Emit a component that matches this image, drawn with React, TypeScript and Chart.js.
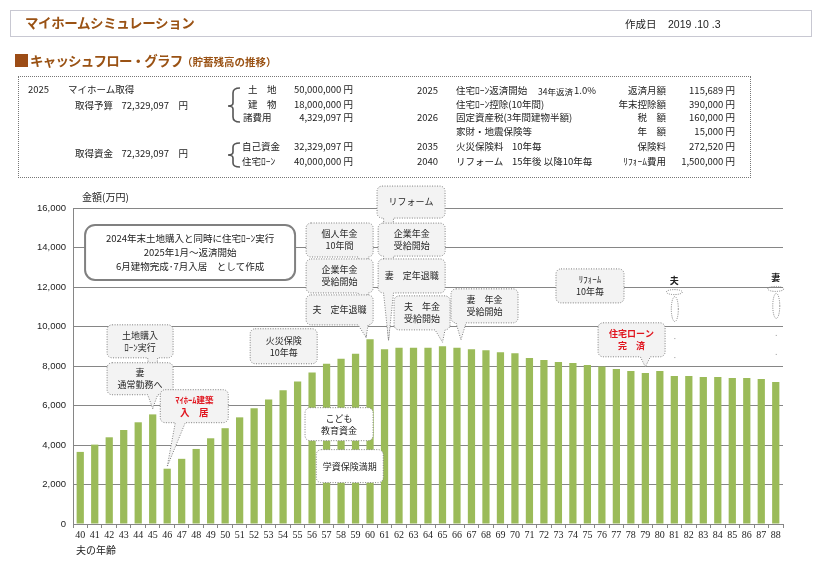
import React, { useEffect, useRef } from "react";
import { Chart, registerables } from "chart.js";

Chart.register(...registerables);

// ---- data ----
const ages = [
  "40", "41", "42", "43", "44", "45", "46", "47", "48", "49",
  "50", "51", "52", "53", "54", "55", "56", "57", "58", "59",
  "60", "61", "62", "63", "64", "65", "66", "67", "68", "69",
  "70", "71", "72", "73", "74", "75", "76", "77", "78", "79",
  "80", "81", "82", "83", "84", "85", "86", "87", "88",
];
const savings = [
  3650, 4020, 4390, 4760, 5150, 5550, 2800, 3300, 3800, 4340,
  4850, 5400, 5860, 6310, 6770, 7220, 7670, 8120, 8370, 8620,
  9350, 8850, 8920, 8920, 8920, 9000, 8920, 8850, 8800, 8700,
  8650, 8400, 8300, 8200, 8150, 8050, 7980, 7850, 7750, 7650,
  7750, 7500, 7500, 7440, 7440, 7390, 7390, 7340, 7190,
];
const yMin = 0;
const yMax = 16000;
const yStep = 2000;

const FONT = '"Noto Sans CJK JP", "Noto Sans", sans-serif';
const BROWN = "#9a5214";
const RED = "#e0141e";

type Ptr = { age: number; gap: number; dx?: number; base?: number };
type Note = {
  lines: string[];
  age: number;
  value: number;
  w: number;
  h: number;
  fill?: string;
  color?: string;
  sizes?: number[];
  ptr?: Ptr;
};

const bigNote = {
  lines: ["2024年末土地購入と同時に住宅ﾛｰﾝ実行", "2025年1月～返済開始", "6月建物完成･7月入居　として作成"],
  age: 47.58,
  value: 13750,
  w: 210,
  h: 55,
};

const notes: Note[] = [
  { lines: ["土地購入", "ﾛｰﾝ実行"], age: 44.13, value: 9250, w: 66, h: 33, ptr: { age: 45, gap: 6 } },
  { lines: ["妻", "通常勤務へ"], age: 44.13, value: 7355, w: 66, h: 32, ptr: { age: 45, gap: 6 } },
  { lines: ["火災保険", "10年毎"], age: 54.04, value: 9000, w: 67, h: 35 },
  { lines: ["ﾏｲﾎｰﾑ建築", "入　居"], color: RED, sizes: [8.5, 9.5], age: 47.87, value: 5965, w: 68, h: 33, ptr: { age: 46, gap: 2, base: 20 } },
  { lines: ["個人年金", "10年間"], age: 57.9, value: 14380, w: 67, h: 34, ptr: { age: 60, gap: 2, dx: -4 } },
  { lines: ["企業年金", "受給開始"], age: 57.9, value: 12560, w: 67, h: 34, ptr: { age: 60, gap: 2, dx: -4 } },
  { lines: ["夫　定年退職"], age: 57.9, value: 10840, w: 67, h: 30, ptr: { age: 60, gap: 2, dx: -4 } },
  { lines: ["リフォーム"], age: 62.83, value: 16300, w: 68, h: 32, ptr: { age: 61, gap: 9, dx: 4 } },
  { lines: ["企業年金", "受給開始"], age: 62.87, value: 14400, w: 67, h: 33, ptr: { age: 61, gap: 9, dx: 4 } },
  { lines: ["妻　定年退職"], age: 62.87, value: 12560, w: 67, h: 34, ptr: { age: 61, gap: 9, dx: 4 } },
  { lines: ["夫　年金", "受給開始"], age: 63.59, value: 10690, w: 56, h: 34, ptr: { age: 65, gap: 4 } },
  { lines: ["妻　年金", "受給開始"], age: 67.9, value: 11045, w: 67, h: 34, ptr: { age: 66, gap: 8, dx: 4 } },
  { lines: ["こども", "教育資金"], fill: "#ffffff", age: 57.86, value: 5055, w: 68, h: 33 },
  { lines: ["学資保険満期"], fill: "#ffffff", age: 58.6, value: 2930, w: 67, h: 33 },
  { lines: ["ﾘﾌｫｰﾑ", "10年毎"], age: 75.18, value: 12056, w: 68, h: 34 },
  { lines: ["住宅ローン", "完　済"], color: RED, age: 78.05, value: 9326, w: 67, h: 34, ptr: { age: 79, gap: 6 } },
];

const lifeMarks = [
  { label: "夫", age: 81, value: 12300 },
  { label: "妻", age: 88, value: 12460 },
];

function boxPath(
  ctx: CanvasRenderingContext2D,
  x: number, y: number, w: number, h: number, r: number,
  p?: { b1: number; b2: number; tx: number; ty: number }
) {
  ctx.beginPath();
  ctx.moveTo(x + r, y);
  ctx.lineTo(x + w - r, y);
  ctx.arcTo(x + w, y, x + w, y + r, r);
  ctx.lineTo(x + w, y + h - r);
  ctx.arcTo(x + w, y + h, x + w - r, y + h, r);
  if (p) {
    ctx.lineTo(p.b2, y + h);
    ctx.lineTo(p.tx, p.ty);
    ctx.lineTo(p.b1, y + h);
  }
  ctx.lineTo(x + r, y + h);
  ctx.arcTo(x, y + h, x, y + h - r, r);
  ctx.lineTo(x, y + r);
  ctx.arcTo(x, y, x + r, y, r);
  ctx.closePath();
}

const notesPlugin = {
  id: "notes",
  afterDatasetsDraw(chart: any) {
    const ctx: CanvasRenderingContext2D = chart.ctx;
    const xs = chart.scales.x;
    const ys = chart.scales.y;
    const x0 = xs.getPixelForValue(0);
    const step = xs.getPixelForValue(1) - x0;
    const first = Number(ages[0]);
    const ax = (a: number) => x0 + (a - first) * step;
    const vy = (v: number) => ys.getPixelForValue(v);
    ctx.save();
    ctx.textAlign = "center";
    ctx.textBaseline = "middle";

    {
      const cx = ax(bigNote.age), cy = vy(bigNote.value);
      const x = cx - bigNote.w / 2, y = cy - bigNote.h / 2;
      boxPath(ctx, x, y, bigNote.w, bigNote.h, 10);
      ctx.fillStyle = "#ffffff";
      ctx.fill();
      ctx.setLineDash([]);
      ctx.lineWidth = 2;
      ctx.strokeStyle = "#808080";
      ctx.stroke();
      ctx.fillStyle = "#222";
      ctx.font = `9.5px ${FONT}`;
      bigNote.lines.forEach((t, i) => {
        ctx.fillText(t, cx, cy + (i - (bigNote.lines.length - 1) / 2) * 14);
      });
    }

    notes.forEach((n) => {
      const cx = ax(n.age), cy = vy(n.value);
      const x = cx - n.w / 2, y = cy - n.h / 2;
      const r = 5;
      let p: any = undefined;
      if (n.ptr) {
        const idx = ages.indexOf(String(n.ptr.age));
        const tx = xs.getPixelForValue(idx) + (n.ptr.dx || 0);
        const ty = vy(savings[idx]) - n.ptr.gap;
        const bc = n.ptr.base != null ? x + n.ptr.base : Math.min(Math.max(tx, x + r + 5), x + n.w - r - 5);
        p = { b1: bc - 5, b2: bc + 5, tx, ty };
      }
      boxPath(ctx, x, y, n.w, n.h, r, p);
      ctx.fillStyle = n.fill || "#f3f3f3";
      ctx.fill();
      ctx.setLineDash([1, 1.5]);
      ctx.lineWidth = 1;
      ctx.strokeStyle = "#7f7f7f";
      ctx.stroke();
      ctx.fillStyle = n.color || "#262626";
      n.lines.forEach((t, i) => {
        const s = n.sizes ? n.sizes[i] : 9;
        ctx.font = `${n.color ? "bold " : ""}${s}px ${FONT}`;
        ctx.fillText(t, cx, cy + (i - (n.lines.length - 1) / 2) * 12);
      });
    });

    lifeMarks.forEach((m) => {
      const cx = ax(m.age), cy = vy(m.value);
      ctx.setLineDash([]);
      ctx.fillStyle = "#222";
      ctx.font = `bold 9px ${FONT}`;
      ctx.fillText(m.label, cx, cy);
      ctx.setLineDash([1, 1.2]);
      ctx.strokeStyle = "#7f7f7f";
      ctx.lineWidth = 1;
      ctx.beginPath();
      ctx.ellipse(cx, cy + 11, 8, 2.5, 0, 0, Math.PI * 2);
      ctx.stroke();
      ctx.beginPath();
      ctx.ellipse(cx + 0.5, cy + 28, 3.5, 12.5, 0, 0, Math.PI * 2);
      ctx.stroke();
      ctx.fillStyle = "#999";
      [57, 76].forEach((d) => ctx.fillRect(cx, cy + d, 1, 1));
    });
    ctx.restore();
  },
};

type TP = {
  x: number; y: number; children: React.ReactNode; size?: number;
  align?: "left" | "right" | "center"; color?: string; bold?: boolean; family?: string; ls?: number;
};
const T = ({ x, y, children, size = 9.5, align = "left", color = "#222", bold = false, family, ls }: TP) => (
  <div
    style={{
      position: "absolute",
      left: x,
      top: y,
      transform:
        align === "right" ? "translate(-100%,-50%)" : align === "center" ? "translate(-50%,-50%)" : "translateY(-50%)",
      whiteSpace: "nowrap",
      fontSize: size,
      lineHeight: 1,
      color,
      fontWeight: bold ? 700 : 400,
      fontFamily: family || FONT,
      letterSpacing: ls || 0,
    }}
  >
    {children}
  </div>
);

export default function App() {
  const ref = useRef<HTMLCanvasElement | null>(null);

  useEffect(() => {
    const canvas = ref.current;
    if (!canvas) return;
    const chart = new Chart(canvas, {
      type: "bar",
      data: {
        labels: ages,
        datasets: [
          {
            data: savings,
            backgroundColor: "#9bbb59",
            borderWidth: 0,
            barPercentage: 0.5,
            categoryPercentage: 1,
          },
        ],
      },
      options: {
        animation: false,
        responsive: false,
        layout: { padding: { left: 10, top: 208, right: 36, bottom: 26 } },
        plugins: { legend: { display: false }, tooltip: { enabled: false } },
        scales: {
          x: {
            grid: { drawOnChartArea: false, drawTicks: true, tickLength: 4, color: "#868686", offset: true },
            border: { color: "#868686" },
            ticks: {
              font: { family: "Liberation Serif", size: 10 },
              color: "#222",
              padding: 1,
              maxRotation: 0,
              minRotation: 0,
              autoSkip: false,
            },
            afterFit: (s: any) => {
              s.height = 20;
            },
          },
          y: {
            min: yMin,
            max: yMax,
            ticks: {
              stepSize: yStep,
              font: { family: "Liberation Sans", size: 9.5 },
              color: "#222",
              padding: 7,
              callback: (v: any) => Number(v).toLocaleString("en-US"),
            },
            grid: { color: "#868686", drawTicks: false },
            border: { color: "#868686" },
            afterFit: (s: any) => {
              s.width = 63;
            },
          },
        },
      } as any,
      plugins: [notesPlugin as any],
    });
    return () => chart.destroy();
  }, []);

  return (
    <div style={{ position: "absolute", left: 0, top: 0, width: 819, height: 570, background: "#fff", fontFamily: FONT, overflow: "hidden" }}>
      <canvas ref={ref} width={819} height={570} style={{ position: "absolute", left: 0, top: 0, width: 819, height: 570 }} />

      {/* header */}
      <div style={{ position: "absolute", left: 10, top: 10, width: 800, height: 25, border: "1px solid #c8c8d2" }} />
      <T x={25} y={23} size={13.5} bold color={BROWN} ls={-0.4}>マイホームシミュレーション</T>
      <T x={625} y={24} size={10.5}>作成日</T>
      <T x={668} y={24} size={10.5} family="Liberation Sans">2019 .10 .3</T>

      {/* section title */}
      <div style={{ position: "absolute", left: 15, top: 54, width: 13, height: 13, background: "#9c4c16" }} />
      <T x={30} y={61} size={13.5} bold color={BROWN} ls={-0.8}>キャッシュフロー・グラフ</T>
      <T x={182} y={62} size={10.5} bold color={BROWN}>（貯蓄残高の推移）</T>

      {/* info box */}
      <div style={{ position: "absolute", left: 18, top: 76, width: 731, height: 100, border: "1px dotted #777" }} />
      <T x={28} y={90}>2025</T>
      <T x={68} y={90}>マイホーム取得</T>
      <T x={75} y={106}>取得予算</T>
      <T x={188} y={106} align="right">72,329,097　円</T>
      <T x={75} y={154}>取得資金</T>
      <T x={188} y={154} align="right">72,329,097　円</T>

      <svg width={819} height={570} style={{ position: "absolute", left: 0, top: 0, pointerEvents: "none" }}>
        <path d="M240,88 Q233,88 233,93 L233,103 Q233,106 228,106 Q233,106 233,109 L233,117 Q233,122 240,122" fill="none" stroke="#555" strokeWidth={1.6} />
        <path d="M240,143 Q233,143 233,147 L233,152 Q233,155 228,155 Q233,155 233,158 L233,163 Q233,167 240,167" fill="none" stroke="#555" strokeWidth={1.6} />
      </svg>

      <T x={248} y={90}>土　地</T>
      <T x={353} y={90} align="right">50,000,000 円</T>
      <T x={248} y={105}>建　物</T>
      <T x={353} y={105} align="right">18,000,000 円</T>
      <T x={243} y={118}>諸費用</T>
      <T x={353} y={118} align="right">4,329,097 円</T>
      <T x={242} y={147}>自己資金</T>
      <T x={353} y={147} align="right">32,329,097 円</T>
      <T x={242} y={162}>住宅ﾛｰﾝ</T>
      <T x={353} y={162} align="right">40,000,000 円</T>

      <T x={417} y={91}>2025</T>
      <T x={456} y={91}>住宅ﾛｰﾝ返済開始</T>
      <T x={538} y={91} size={8.5}>34年返済</T>
      <T x={574} y={91}>1.0%</T>
      <T x={456} y={105}>住宅ﾛｰﾝ控除(10年間)</T>
      <T x={417} y={118}>2026</T>
      <T x={456} y={118}>固定資産税(3年間建物半額)</T>
      <T x={456} y={132}>家財・地震保険等</T>
      <T x={417} y={147}>2035</T>
      <T x={456} y={147}>火災保険料</T>
      <T x={512} y={147}>10年毎</T>
      <T x={417} y={162}>2040</T>
      <T x={456} y={162}>リフォーム</T>
      <T x={512} y={162}>15年後 以降10年毎</T>

      <T x={666} y={91} align="right">返済月額</T>
      <T x={666} y={105} align="right">年末控除額</T>
      <T x={666} y={118} align="right">税　額</T>
      <T x={666} y={132} align="right">年　額</T>
      <T x={666} y={147} align="right">保険料</T>
      <T x={666} y={162} align="right">ﾘﾌｫｰﾑ費用</T>

      <T x={735} y={91} align="right">115,689 円</T>
      <T x={735} y={105} align="right">390,000 円</T>
      <T x={735} y={118} align="right">160,000 円</T>
      <T x={735} y={132} align="right">15,000 円</T>
      <T x={735} y={147} align="right">272,520 円</T>
      <T x={735} y={162} align="right">1,500,000 円</T>

      {/* axis titles */}
      <T x={82} y={197} size={10}>金額(万円)</T>
      <T x={76} y={550} size={10}>夫の年齢</T>
    </div>
  );
}
